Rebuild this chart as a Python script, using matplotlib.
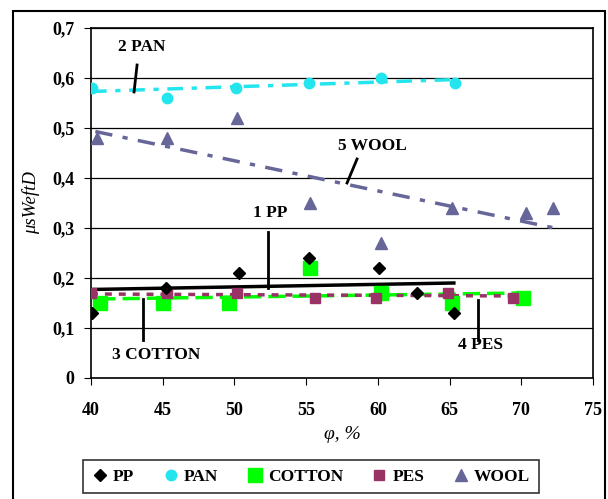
import numpy as np
import matplotlib
matplotlib.use('Agg')
import matplotlib.pyplot as plt
from matplotlib.lines import Line2D
from matplotlib.patches import Rectangle

plt.rcParams['font.family'] = 'Liberation Serif'
plt.rcParams['font.weight'] = 'bold'

# measured points
pp_x = [40.1, 45.2, 50.3, 55.2, 60.1, 62.7, 65.3]
pp_y = [0.13, 0.18, 0.21, 0.24, 0.22, 0.17, 0.13]
pan_x = [40.1, 45.3, 50.1, 55.2, 60.2, 65.4]
pan_y = [0.58, 0.56, 0.58, 0.59, 0.60, 0.59]
cotton_x = [40.6, 45.0, 49.6, 55.3, 60.2, 65.2, 70.1]
cotton_y = [0.15, 0.15, 0.15, 0.22, 0.17, 0.15, 0.16]
pes_x = [40.0, 45.3, 50.2, 55.6, 59.9, 64.9, 69.4]
pes_y = [0.17, 0.17, 0.17, 0.16, 0.16, 0.17, 0.16]
wool_x = [40.4, 45.3, 50.2, 55.3, 60.2, 65.2, 70.3, 72.2]
wool_y = [0.48, 0.48, 0.52, 0.35, 0.27, 0.34, 0.33, 0.34]

# trend lines (start/end)
pp_trend = ([40.0, 65.3], [0.177, 0.19])
pan_trend = ([40.0, 65.5], [0.573, 0.597])
cotton_trend = ([40.5, 70.0], [0.158, 0.170])
pes_trend = ([40.0, 70.0], [0.168, 0.164])
wool_trend = ([40.3, 72.3], [0.493, 0.300])

c_pan = '#22E5EE'
c_cotton = '#00FF00'
c_pes = '#993366'
c_wool = '#666699'

fig = plt.figure(figsize=(6.08, 4.99), dpi=100)
ax = fig.add_axes([0.1497, 0.2425, 0.8256, 0.7014])

ax.plot(*pp_trend, color='black', lw=2.5, zorder=3)
ax.plot(*pan_trend, color=c_pan, lw=2.5, linestyle=(0, (4.5, 2.5, 1.5, 2.5)), zorder=3)
ax.plot(*wool_trend, color=c_wool, lw=2.5, linestyle=(0, (5, 3, 1.5, 3)), zorder=3)
ax.plot(*cotton_trend, color=c_cotton, lw=2.5, linestyle=(0, (5, 2)), zorder=3)
ax.plot(*pes_trend, color=c_pes, lw=2.5, linestyle=(0, (2, 2)), zorder=3)

ax.plot(pp_x, pp_y, 'D', color='black', ms=6.5, ls='none', zorder=5)
ax.plot(pan_x, pan_y, 'o', color=c_pan, ms=7.5, ls='none', zorder=5)
ax.plot(cotton_x, cotton_y, 's', color=c_cotton, ms=9.5, ls='none', zorder=4)
ax.plot(pes_x, pes_y, 's', color=c_pes, ms=6.5, ls='none', zorder=4)
ax.plot(wool_x, wool_y, '^', color=c_wool, ms=8, ls='none', zorder=5)

ax.set_xlim(40, 75)
ax.set_ylim(0, 0.7)
ax.set_xticks(np.arange(40, 76, 5))
ax.set_yticks(np.arange(0, 0.71, 0.1))
ax.set_yticklabels(['0', '0,1', '0,2', '0,3', '0,4', '0,5', '0,6', '0,7'])
ax.tick_params(axis='x', direction='out', length=5, pad=12, labelsize=13)
ax.tick_params(axis='y', direction='out', length=5, pad=7, labelsize=13)
ax.yaxis.grid(True, color='black', lw=0.9)
ax.set_axisbelow(True)
for s in ax.spines.values():
    s.set_linewidth(1.2)

ax.set_xlabel('φ, %', fontsize=14, style='italic', labelpad=5)
ax.set_ylabel('μsWeftD', fontsize=13.5, style='italic', labelpad=9)

# annotations
fs = 12.5
ax.text(43.56, 0.662, '2 PAN', ha='center', va='center', fontsize=fs)
ax.plot([43.21, 43.0], [0.626, 0.572], color='black', lw=2, zorder=6)
ax.text(59.6, 0.464, '5 WOOL', ha='center', va='center', fontsize=fs)
ax.plot([58.55, 57.85], [0.438, 0.39], color='black', lw=2, zorder=6)
ax.text(52.48, 0.33, '1 PP', ha='center', va='center', fontsize=fs)
ax.plot([52.34, 52.34], [0.292, 0.18], color='black', lw=2, zorder=6)
ax.text(44.53, 0.046, '3 COTTON', ha='center', va='center', fontsize=fs)
ax.plot([43.63, 43.63], [0.158, 0.076], color='black', lw=2, zorder=6)
ax.text(67.13, 0.066, '4 PES', ha='center', va='center', fontsize=fs)
ax.plot([66.99, 66.99], [0.156, 0.076], color='black', lw=2, zorder=6)

handles = [
    Line2D([], [], marker='D', color='black', ls='none', ms=6),
    Line2D([], [], marker='o', color=c_pan, ls='none', ms=7.5),
    Line2D([], [], marker='s', color=c_cotton, ls='none', ms=10),
    Line2D([], [], marker='s', color=c_pes, ls='none', ms=6.5),
    Line2D([], [], marker='^', color=c_wool, ls='none', ms=8),
]
labels = ['PP', 'PAN', 'COTTON', 'PES', 'WOOL']
leg = fig.legend(handles, labels, loc='center', bbox_to_anchor=(0.511, 0.045),
                 ncol=5, fontsize=12.5, frameon=True, fancybox=False,
                 edgecolor='black', handlelength=1.0, handletextpad=0.25,
                 columnspacing=1.6, borderpad=0.5)
leg.get_frame().set_linewidth(1.2)

fig.patches.append(Rectangle((13 / 608, -0.05), (605 - 13) / 608, 1 - 11 / 499 + 0.05,
                             transform=fig.transFigure, fill=False,
                             edgecolor='black', lw=1.5))

fig.savefig('out.png', dpi=100)
